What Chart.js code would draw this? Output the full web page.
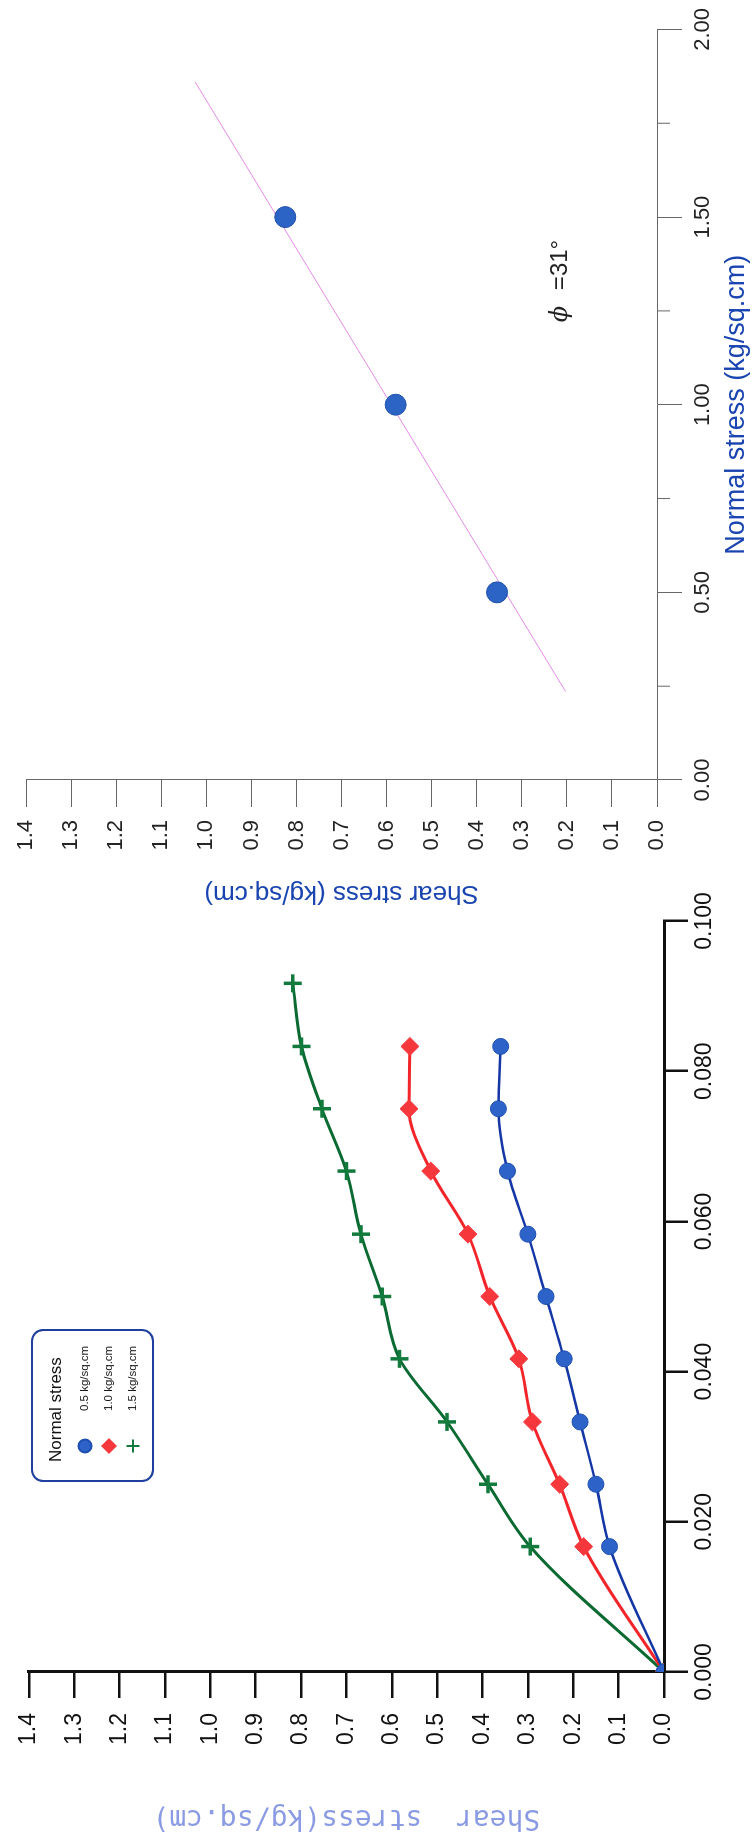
<!DOCTYPE html>
<html>
<head>
<meta charset="utf-8">
<script src="https://cdn.jsdelivr.net/npm/chart.js@4/dist/chart.umd.min.js"></script>
<style>
  html, body { margin: 0; padding: 0; background: #fff; }
  body { width: 754px; height: 1842px; overflow: hidden; position: relative; }
  /* the figure is a landscape sheet turned a quarter turn to the left */
  #sheet { position: absolute; left: 0; top: 0; width: 1842px; height: 754px;
           transform-origin: 0 0; transform: translate(0, 1842px) rotate(-90deg); }
  #sheet canvas { position: absolute; top: 0; }
  #strain { left: 0; }
  #envelope { left: 900px; }
</style>
</head>
<body>
<div id="sheet">
  <canvas id="strain" width="1000" height="754"></canvas>
  <canvas id="envelope" width="942" height="754"></canvas>
</div>
<script>
// shear stress vs strain, one series per normal stress
const strain = [0, 0.0167, 0.025, 0.0333, 0.0417, 0.05, 0.0583, 0.0667, 0.075, 0.0833, 0.0917];
const shear05 = [0, 0.12, 0.15, 0.185, 0.22, 0.26, 0.30, 0.345, 0.365, 0.36];
const shear10 = [0, 0.177, 0.23, 0.29, 0.32, 0.384, 0.432, 0.514, 0.562, 0.56];
const shear15 = [0, 0.295, 0.388, 0.478, 0.583, 0.621, 0.668, 0.70, 0.754, 0.799, 0.818];
const seriesNames = ["0.5 kg/sq.cm", "1.0 kg/sq.cm", "1.5 kg/sq.cm"];

// failure envelope
const normalStress = [0.5, 1.0, 1.5];
const peakShear = [0.355, 0.58, 0.825];
const fitX = [0.236, 1.86];
const fitY = [0.203, 1.025];
const minorTicks = [0.25, 0.75, 1.25, 1.75];
const phiAt = [1.22, 0.2];

const pts = ys => ys.map((y, i) => ({ x: strain[i], y }));
const sans = "'Liberation Sans', Arial, sans-serif";

const legendBox = {
  id: "legendBox",
  afterDraw(chart) {
    const ctx = chart.ctx;
    ctx.save();
    ctx.beginPath();
    ctx.roundRect(361, 32, 151, 121, 11);
    ctx.strokeStyle = "#1f3f9f";
    ctx.lineWidth = 2;
    ctx.stroke();
    ctx.fillStyle = "#111";
    ctx.textBaseline = "middle";
    ctx.font = "17px 'Liberation Sans Narrow', " + sans;
    ctx.fillText("Normal stress", 380, 56);
    chart.data.datasets.forEach((ds, i) => {
      const y = 85 + i * 24;
      ctx.fillStyle = ds.pointBackgroundColor;
      ctx.strokeStyle = ds.pointBorderColor;
      Chart.helpers.drawPoint(ctx, {
        pointStyle: ds.pointStyle, rotation: 0, radius: 6.5,
        borderWidth: ds.pointBorderWidth
      }, 396, y);
      ctx.fillStyle = "#111";
      ctx.font = "11.5px 'Liberation Sans Narrow', " + sans;
      ctx.fillText(ds.label, 431, y);
    });
    ctx.restore();
  }
};

new Chart(document.getElementById("strain"), {
  type: "line",
  data: {
    datasets: [
      { label: seriesNames[0], data: pts(shear05), borderColor: "#1537a6", borderWidth: 2.5,
        pointStyle: "circle", pointRadius: 8, pointBackgroundColor: "#2d63c8",
        pointBorderColor: "#1f4fb0", pointBorderWidth: 1, cubicInterpolationMode: "monotone" },
      { label: seriesNames[1], data: pts(shear10), borderColor: "#f2262a", borderWidth: 3,
        pointStyle: "rectRot", pointRadius: 9, pointBackgroundColor: "#f6383d",
        pointBorderColor: "#f6383d", pointBorderWidth: 1, cubicInterpolationMode: "monotone" },
      { label: seriesNames[2], data: pts(shear15), borderColor: "#0b6a32", borderWidth: 3,
        pointStyle: "cross", pointRadius: 9, pointBackgroundColor: "#117a3c",
        pointBorderColor: "#117a3c", pointBorderWidth: 3.5, cubicInterpolationMode: "monotone" }
    ]
  },
  options: {
    responsive: false,
    animation: false,
    layout: { padding: { top: 24, right: 79, left: 0, bottom: 0 } },
    plugins: { legend: { display: false }, tooltip: { enabled: false } },
    scales: {
      x: {
        type: "linear", min: 0, max: 0.1,
        afterFit: s => { s.height = 90; },
        ticks: { stepSize: 0.02, callback: v => v.toFixed(3), color: "#111",
                 font: { size: 23, family: sans }, padding: 3, maxRotation: 0, autoSkip: false },
        grid: { drawOnChartArea: false, tickLength: 24, color: "#111", lineWidth: 2.5 },
        border: { color: "#111", width: 3 }
      },
      y: {
        type: "linear", min: 0, max: 1.4,
        afterFit: s => { s.width = 170; },
        ticks: { stepSize: 0.1, callback: v => v.toFixed(1), color: "#111",
                 font: { size: 23, family: sans }, padding: 15, autoSkip: false },
        grid: { drawOnChartArea: false, tickLength: 26, color: "#111", lineWidth: 2.5 },
        border: { color: "#111", width: 3 },
        title: { display: true, text: "Shear  stress(kg/sq.cm)", color: "#8b9be3",
                 font: { family: "'DejaVu Sans Mono', monospace", size: 28, lineHeight: 1 },
                 padding: { top: 11 } }
      }
    }
  },
  plugins: [legendBox]
});

const envelopeExtras = {
  id: "envelopeExtras",
  afterDraw(chart) {
    const { ctx, scales: { x, y } } = chart;
    ctx.save();
    ctx.strokeStyle = "#666";
    ctx.lineWidth = 1;
    minorTicks.forEach(v => {
      const px = x.getPixelForValue(v);
      ctx.beginPath();
      ctx.moveTo(px, x.top);
      ctx.lineTo(px, x.top + 13);
      ctx.stroke();
    });
    const px = x.getPixelForValue(phiAt[0]);
    const py = y.getPixelForValue(phiAt[1]);
    ctx.fillStyle = "#222";
    ctx.textBaseline = "alphabetic";
    ctx.font = "italic 24px 'DejaVu Serif', serif";
    ctx.fillText("\u03d5", px, py);
    ctx.font = "24px " + sans;
    ctx.fillText("=31\u00b0", px + 32, py);
    ctx.restore();
  }
};

new Chart(document.getElementById("envelope"), {
  type: "scatter",
  data: {
    datasets: [
      { data: normalStress.map((x, i) => ({ x, y: peakShear[i] })), pointRadius: 10.5,
        backgroundColor: "#2c64c6", borderColor: "#1c4ea8", borderWidth: 1, order: 1 },
      { type: "line", data: fitX.map((x, i) => ({ x, y: fitY[i] })), borderColor: "#e58ae5",
        borderWidth: 1, pointRadius: 0, order: 2 }
    ]
  },
  options: {
    responsive: false,
    animation: false,
    layout: { padding: { top: 21, right: 28, left: 0, bottom: 0 } },
    plugins: { legend: { display: false }, tooltip: { enabled: false } },
    scales: {
      x: {
        type: "linear", min: 0, max: 2,
        afterFit: s => { s.height = 97; },
        ticks: { stepSize: 0.5, callback: v => v.toFixed(2), color: "#222",
                 font: { size: 22, family: sans }, padding: 8, maxRotation: 0, autoSkip: false },
        grid: { drawOnChartArea: false, tickLength: 25, color: "#666", lineWidth: 1 },
        border: { color: "#666", width: 1 },
        title: { display: true, text: "Normal stress (kg/sq.cm)", color: "#1a45b0",
                 font: { size: 27, family: sans, lineHeight: 1 }, padding: { bottom: 4 } }
      },
      y: {
        type: "linear", min: 0, max: 1.4,
        afterFit: s => { s.width = 162; },
        ticks: { stepSize: 0.1, callback: v => v.toFixed(1), color: "#222",
                 font: { size: 22, family: sans }, padding: 13, autoSkip: false },
        grid: { drawOnChartArea: false, tickLength: 27, color: "#666", lineWidth: 1 },
        border: { color: "#666", width: 1 },
        title: { display: true, text: "Shear stress (kg/sq.cm)", color: "#1a45b0",
                 font: { size: 26, family: sans, lineHeight: 1 }, padding: { top: 36 } }
      }
    }
  },
  plugins: [envelopeExtras]
});
</script>
</body>
</html>
